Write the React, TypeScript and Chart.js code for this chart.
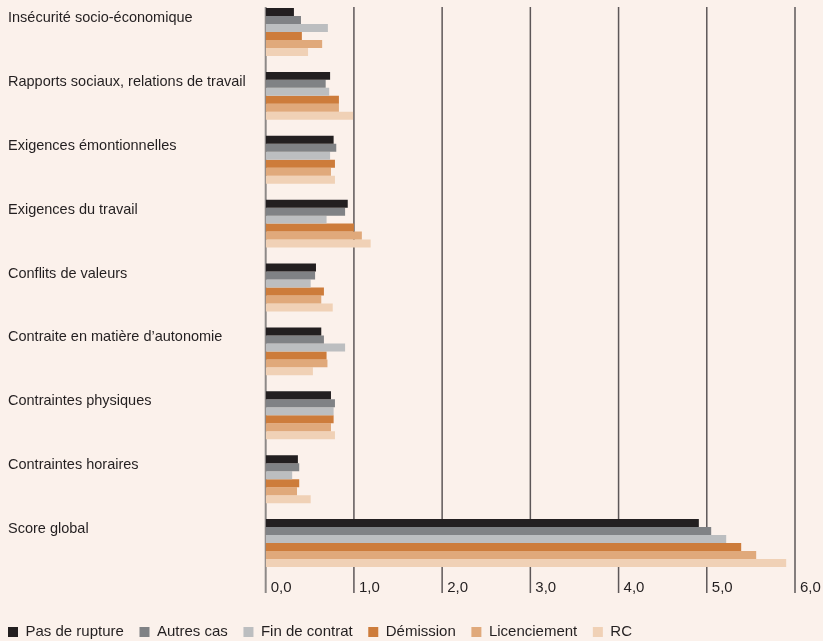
import React, { useEffect, useRef } from "react";
import { Chart, registerables } from "chart.js";

Chart.register(...registerables);

const categories = [
  "Insécurité socio-économique",
  "Rapports sociaux, relations de travail",
  "Exigences émontionnelles",
  "Exigences du travail",
  "Conflits de valeurs",
  "Contraite en matière d’autonomie",
  "Contraintes physiques",
  "Contraintes horaires",
  "Score global",
];

const seriesNames = ["Pas de rupture", "Autres cas", "Fin de contrat", "Démission", "Licenciement", "RC"];

const pasDeRupture = [0.32, 0.73, 0.77, 0.93, 0.57, 0.63, 0.74, 0.365, 4.91];
const autresCas = [0.40, 0.68, 0.80, 0.90, 0.56, 0.66, 0.785, 0.38, 5.05];
const finDeContrat = [0.705, 0.72, 0.73, 0.69, 0.51, 0.90, 0.77, 0.30, 5.22];
const demission = [0.41, 0.83, 0.785, 1.00, 0.66, 0.69, 0.77, 0.38, 5.39];
const licenciement = [0.64, 0.83, 0.74, 1.09, 0.63, 0.70, 0.74, 0.355, 5.56];
const rc = [0.48, 0.99, 0.785, 1.19, 0.76, 0.535, 0.785, 0.51, 5.90];

const xTickValues = [0, 1, 2, 3, 4, 5, 6];

const seriesColors = ["#231f20", "#808285", "#bcbec0", "#cd7c3b", "#e0a97b", "#f0d1b6"];
const BG = "#fbf1eb";
const TEXT = "#231f20";
const FONT = "'Liberation Sans', Arial, sans-serif";
const LEGEND_PAD = 15.6;

export default function App() {
  const ref = useRef<HTMLCanvasElement>(null);

  useEffect(() => {
    document.body.style.margin = "0";
    document.body.style.background = BG;
    const canvas = ref.current;
    if (!canvas) return;

    const gridPlugin = {
      id: "customGrid",
      beforeDatasetsDraw(chart: any) {
        const { ctx, chartArea, scales } = chart;
        const xs = scales.x;
        ctx.save();
        xs.ticks.forEach((t: any) => {
          const x = xs.getPixelForValue(t.value);
          ctx.beginPath();
          ctx.lineWidth = t.value === 0 ? 2 : 1.5;
          ctx.strokeStyle = t.value === 0 ? "#8d8987" : "#5d5758";
          ctx.moveTo(x, chartArea.top + 7);
          ctx.lineTo(x, chartArea.bottom + 18);
          ctx.stroke();
        });
        ctx.restore();
      },
    };

    const legendShift = {
      id: "legendShift",
      afterLayout(chart: any) {
        const lg = chart.legend;
        if (!lg) return;
        lg.left -= LEGEND_PAD;
        lg.right -= LEGEND_PAD;
        lg.top += 8.5;
        lg.bottom += 8.5;
      },
    };

    const allSeries = [pasDeRupture, autresCas, finDeContrat, demission, licenciement, rc];

    const chart = new Chart(canvas, {
      type: "bar",
      data: {
        labels: categories,
        datasets: allSeries.map((d, i) => ({
          label: seriesNames[i],
          data: d,
          backgroundColor: seriesColors[i],
          borderWidth: 0,
          categoryPercentage: 0.75,
          barPercentage: 1,
        })),
      },
      options: {
        indexAxis: "y",
        responsive: false,
        animation: false,
        layout: { padding: { left: 8, right: 28, top: 0, bottom: 0 } },
        plugins: {
          tooltip: { enabled: false },
          legend: {
            position: "bottom",
            align: "start",
            labels: {
              boxWidth: 10,
              boxHeight: 10,
              padding: LEGEND_PAD,
              color: TEXT,
              font: { family: FONT, size: 15 },
            },
          },
        },
        scales: {
          x: {
            type: "linear",
            min: 0,
            max: 6,
            afterBuildTicks: (s: any) => {
              s.ticks = xTickValues.map((v) => ({ value: v }));
            },
            ticks: {
              align: "start",
              labelOffset: 5,
              padding: 4,
              color: TEXT,
              font: { family: FONT, size: 15 },
              callback: (v: any) => Number(v).toFixed(1).replace(".", ","),
            },
            grid: { display: false, drawTicks: false },
            border: { display: false },
            afterFit: (s: any) => {
              s.height = 641 - 575 - (15 + LEGEND_PAD + 10);
            },
          },
          y: {
            type: "category",
            ticks: {
              crossAlign: "far",
              labelOffset: -14,
              autoSkip: false,
              color: TEXT,
              font: { family: FONT, size: 14.5 },
            },
            grid: { display: false, drawTicks: false },
            border: { display: false },
            afterFit: (s: any) => {
              s.width = 257.7;
              s.paddingTop = 0;
              s.paddingBottom = 0;
            },
          },
        },
      },
      plugins: [gridPlugin, legendShift],
    } as any);

    return () => chart.destroy();
  }, []);

  return (
    <div style={{ width: 823, height: 641, background: BG }}>
      <canvas ref={ref} width={823} height={641} style={{ display: "block" }} />
    </div>
  );
}
